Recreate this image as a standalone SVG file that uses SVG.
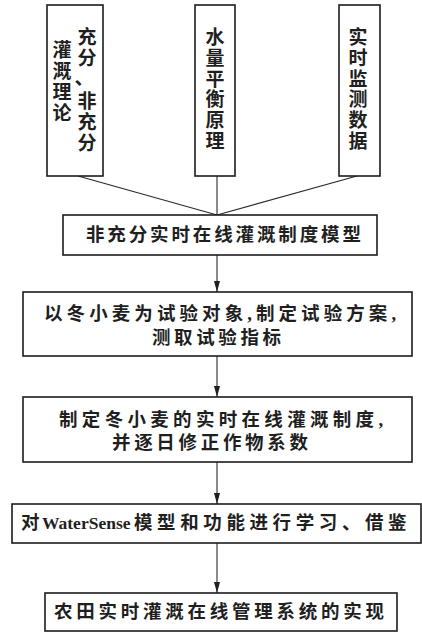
<svg xmlns="http://www.w3.org/2000/svg" width="422" height="633" viewBox="0 0 422 633">
<style>
.box{fill:#fff;stroke:#1c1c1c;stroke-width:1.6}
.ln{stroke:#2a2a2a;stroke-width:1.1;fill:none}
text{font-family:"Liberation Serif","Noto Sans CJK SC",serif;font-size:18.5px;fill:#1f1f1f;font-weight:bold}
.v{font-size:19px;text-anchor:middle;dominant-baseline:central}
.h{dominant-baseline:central}
</style>
<defs>
<marker id="ah" markerUnits="userSpaceOnUse" markerWidth="11" markerHeight="6" refX="11" refY="3" orient="auto">
<path d="M0,0 L11,3 L0,6 z" fill="#1f1f1f"/>
</marker>
</defs>
<rect width="422" height="633" fill="#fff"/>
<g id="connectors">
<line class="ln" x1="78" y1="176" x2="217" y2="215"/>
<line class="ln" x1="217" y1="176" x2="217" y2="215"/>
<line class="ln" x1="357" y1="176" x2="217" y2="215"/>
<line class="ln" x1="217" y1="255" x2="217" y2="292" marker-end="url(#ah)"/>
<line class="ln" x1="217" y1="356" x2="217" y2="397" marker-end="url(#ah)"/>
<line class="ln" x1="217" y1="462" x2="217" y2="504" marker-end="url(#ah)"/>
<line class="ln" x1="217" y1="543" x2="217" y2="593" marker-end="url(#ah)"/>
</g>
<g id="n1">
<rect class="box" x="47" y="5" width="56" height="171"/>
<text class="v"><tspan x="87" y="37">充</tspan><tspan x="87" y="58">分</tspan><tspan x="84" y="78">、</tspan><tspan x="87" y="101">非</tspan><tspan x="87" y="122">充</tspan><tspan x="87" y="143">分</tspan></text>
<text class="v"><tspan x="62" y="50">灌</tspan><tspan x="62" y="71">溉</tspan><tspan x="62" y="92">理</tspan><tspan x="62" y="113">论</tspan></text>
</g>
<g id="n2">
<rect class="box" x="195" y="5" width="40" height="171"/>
<text class="v"><tspan x="215" y="37">水</tspan><tspan x="215" y="58">量</tspan><tspan x="215" y="79">平</tspan><tspan x="215" y="99">衡</tspan><tspan x="215" y="120">原</tspan><tspan x="215" y="141">理</tspan></text>
</g>
<g id="n3">
<rect class="box" x="339" y="5" width="41" height="171"/>
<text class="v"><tspan x="358" y="37">实</tspan><tspan x="358" y="58">时</tspan><tspan x="358" y="79">监</tspan><tspan x="358" y="99">测</tspan><tspan x="358" y="120">数</tspan><tspan x="358" y="141">据</tspan></text>
</g>
<g id="n4">
<rect class="box" x="63" y="215" width="314" height="40"/>
<text class="h" x="86" y="235" textLength="275" lengthAdjust="spacing">非充分实时在线灌溉制度模型</text>
</g>
<g id="n5">
<rect class="box" x="23" y="292" width="389" height="64"/>
<text class="h" x="44" y="314" textLength="352" lengthAdjust="spacing">以冬小麦为试验对象,制定试验方案,</text>
<text class="h" x="152" y="338" textLength="129" lengthAdjust="spacing">测取试验指标</text>
</g>
<g id="n6">
<rect class="box" x="23" y="397" width="389" height="65"/>
<text class="h" x="59" y="420" textLength="324" lengthAdjust="spacing">制定冬小麦的实时在线灌溉制度,</text>
<text class="h" x="112" y="443" textLength="196" lengthAdjust="spacing">并逐日修正作物系数</text>
</g>
<g id="n7">
<rect class="box" x="12" y="504" width="409" height="39"/>
<text class="h" y="523"><tspan x="21">对</tspan> <tspan x="42" font-size="17.5">WaterSense</tspan> <tspan x="134" letter-spacing="4.6">模型和功能进行学习、借鉴</tspan></text>
</g>
<g id="n8">
<rect class="box" x="45" y="593" width="352" height="38"/>
<text class="h" x="54" y="612" textLength="330" lengthAdjust="spacing">农田实时灌溉在线管理系统的实现</text>
</g>
</svg>
